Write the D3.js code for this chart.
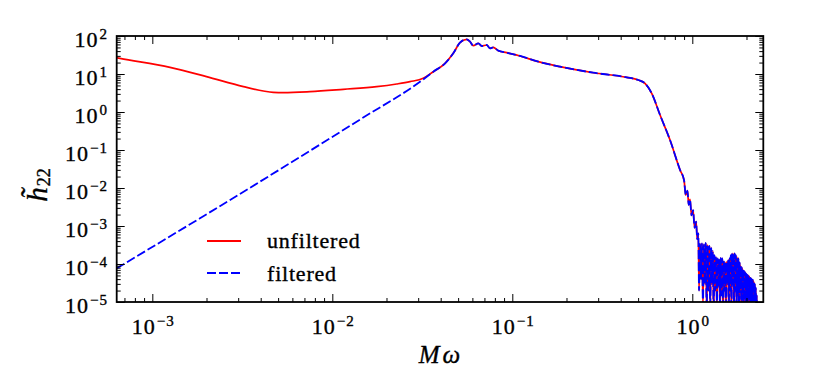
<!DOCTYPE html>
<html>
<head>
<meta charset="utf-8">
<script src="https://d3js.org/d3.v7.min.js"></script>
<style>
  body { margin: 0; background: #fff; }
  svg text { font-family: "Liberation Serif", serif; fill: #000; stroke: #000; stroke-width: 0.35; }
  .axis path { display: none; }
  .axis line { stroke: #000; stroke-width: 1; }
</style>
</head>
<body>
<svg id="chart" width="830" height="369"></svg>
<script>
// unfiltered spectrum at low frequency (before it joins the filtered one)
const redLowOmega = [6.34e-4, 6.61e-4, 1.254e-3, 2.0e-3, 3.21e-3, 4.14e-3, 4.70e-3, 5.35e-3, 7.52e-3, 1.151e-2, 1.764e-2, 2.278e-2, 2.70e-2, 3.20e-2];
const redLowAmp   = [26.8, 25.8, 14.97, 8.51, 4.64, 3.57, 3.29, 3.23, 3.43, 3.95, 4.64, 5.46, 6.28, 7.69];

// filtered spectrum at low frequency (power law)
const blueLowOmega = [6.34e-4, 1.84e-3, 1.43e-2, 3.20e-2];
const blueLowAmp   = [7.7e-5, 1.6e-3, 0.64, 7.2];

// common part: peak, inspiral tail, ringdown drop
const sharedOmega = [3.64e-2, 4.23e-2, 4.70e-2, 5.12e-2, 5.58e-2, 5.82e-2, 6.07e-2, 6.48e-2, 6.76e-2, 7.21e-2, 7.52e-2, 7.84e-2, 8.36e-2, 9.30e-2, 0.1104, 0.1395, 0.184, 0.282, 0.432, 0.501, 0.546, 0.595, 0.662, 0.752, 0.855,
                     0.90, 0.92, 0.94, 0.955, 0.971, 0.99, 1.01, 1.03, 1.05, 1.065, 1.08];
const sharedAmp   = [11.5, 19.1, 35.0, 66.8, 81.7, 70.9, 55.7, 64.1, 54.6, 58.0, 47.4, 50.3, 41.1, 36.4, 29.8, 21.1, 15.6, 10.8, 8.17, 6.95, 5.68, 3.10, 0.834, 0.183, 0.0298,
                     0.016, 6.5e-3, 8.5e-3, 3.6e-3, 5.0e-3, 1.9e-3, 2.6e-3, 9e-4, 1.3e-3, 4.5e-4, 6.4e-4];

// numerical noise floor at high frequency
const noiseOmega = [1.090, 1.104, 1.118, 1.132, 1.146, 1.160, 1.174, 1.188, 1.202, 1.216, 1.230, 1.244, 1.258, 1.272, 1.286, 1.300, 1.314, 1.328, 1.342, 1.356,
                    1.370, 1.384, 1.398, 1.412, 1.426, 1.440, 1.454, 1.468, 1.482, 1.496, 1.510, 1.524, 1.538, 1.552, 1.566, 1.580, 1.594, 1.608, 1.622, 1.636,
                    1.650, 1.664, 1.678, 1.692, 1.706, 1.720, 1.734, 1.748, 1.762, 1.776, 1.790, 1.804, 1.818, 1.832, 1.846, 1.860, 1.874, 1.888, 1.902, 1.916,
                    1.930, 1.944, 1.958, 1.972, 1.986, 2.000, 2.014, 2.028, 2.042, 2.056, 2.070, 2.084, 2.098, 2.112, 2.126, 2.140, 2.154, 2.168, 2.182, 2.196,
                    2.210, 2.224, 2.238, 2.252, 2.266, 2.280, 2.294, 2.308];
const noiseAmp   = [2.0e-5, 3.4e-4, 4e-5, 3.5e-4, 8e-6, 3.3e-4, 3e-5, 3.6e-4, 5e-6, 3.2e-4, 2e-5, 3.0e-4, 6e-6, 2.7e-4, 3e-5, 2.2e-4, 4e-6, 1.7e-4, 2e-5, 1.5e-4,
                    7e-6, 1.4e-4, 2.5e-5, 1.3e-4, 5e-6, 1.45e-4, 1.5e-5, 1.4e-4, 4e-6, 1.2e-4, 2e-5, 1.1e-4, 6e-6, 1.15e-4, 3e-5, 1.25e-4, 5e-6, 1.4e-4, 2e-5, 1.7e-4,
                    4e-6, 1.9e-4, 3e-5, 1.85e-4, 6e-6, 1.9e-4, 2e-5, 1.7e-4, 5e-6, 1.5e-4, 1.5e-5, 1.4e-4, 4e-6, 1.1e-4, 2e-5, 9e-5, 5e-6, 8e-5, 1.2e-5, 7e-5,
                    3e-6, 6.5e-5, 1.5e-5, 6e-5, 4e-6, 5.5e-5, 1e-5, 5.2e-5, 3e-6, 5e-5, 1.2e-5, 4.6e-5, 4e-6, 4.3e-5, 9e-6, 4e-5, 3e-6, 3.8e-5, 8e-6, 3.5e-5,
                    3e-6, 3e-5, 6e-6, 2.4e-5, 3e-6, 1.5e-5, 3e-6, 8e-6];

const xTickExp = [-3, -2, -1, 0];
const yTickExp = [-5, -4, -3, -2, -1, 0, 1, 2];
const legendLabels = ["unfiltered", "filtered"];

const L = 116.7, R = 763.3, T = 36, B = 302;

const svg = d3.select("#chart");

const x = d3.scaleLog().domain([6.34e-4, 2.48]).range([L, R]);
const y = d3.scaleLog().domain([1e-5, 1e2]).range([B, T]);

const zip = (a, b) => a.map((v, i) => [v, b[i]]);
const tail = zip(sharedOmega, sharedAmp).concat(zip(noiseOmega, noiseAmp));
const redData = zip(redLowOmega, redLowAmp).concat(tail);
const blueData = zip(blueLowOmega, blueLowAmp).concat(tail);

svg.append("clipPath").attr("id", "clip")
  .append("rect").attr("x", L).attr("y", T).attr("width", R - L).attr("height", B - T);

const line = d3.line()
  .x(d => x(d[0]))
  .y(d => y(d[1]))
  .curve(d3.curveMonotoneX);

const plot = svg.append("g").attr("clip-path", "url(#clip)");

plot.append("path")
  .datum(redData)
  .attr("d", line)
  .attr("fill", "none")
  .attr("stroke", "#ff0000")
  .attr("stroke-width", 1.7);

plot.append("path")
  .datum(blueData)
  .attr("d", line)
  .attr("fill", "none")
  .attr("stroke", "#0000ff")
  .attr("stroke-width", 1.8)
  .attr("stroke-dasharray", "9,3");

// ticks (inward, all four sides)
function minorTicks(lo, hi) {
  const out = [];
  for (let e = lo; e < hi; e++) for (let k = 2; k <= 9; k++) out.push(k * Math.pow(10, e));
  return out;
}
const xMajor = xTickExp.map(e => Math.pow(10, e));
const xMinor = minorTicks(-4, 1).filter(v => v >= x.domain()[0] && v <= x.domain()[1]);
const yMajor = yTickExp.map(e => Math.pow(10, e));
const yMinor = minorTicks(-5, 2);

function addAxis(gen, tr, vals, size) {
  svg.append("g").attr("class", "axis").attr("transform", tr)
    .call(gen.tickValues(vals).tickSize(size).tickFormat(""));
}
addAxis(d3.axisBottom(x), `translate(0,${B})`, xMajor, -8);
addAxis(d3.axisBottom(x), `translate(0,${B})`, xMinor, -4);
addAxis(d3.axisTop(x), `translate(0,${T})`, xMajor, -8);
addAxis(d3.axisTop(x), `translate(0,${T})`, xMinor, -4);
addAxis(d3.axisLeft(y), `translate(${L},0)`, yMajor, -8);
addAxis(d3.axisLeft(y), `translate(${L},0)`, yMinor, -4);
addAxis(d3.axisRight(y), `translate(${R},0)`, yMajor, -8);
addAxis(d3.axisRight(y), `translate(${R},0)`, yMinor, -4);

svg.append("rect")
  .attr("x", L).attr("y", T).attr("width", R - L).attr("height", B - T)
  .attr("fill", "none").attr("stroke", "#000").attr("stroke-width", 1.8);

// tick labels 10^n
function powLabel(sel, e) {
  sel.append("tspan").attr("letter-spacing", 1).text("10");
  sel.append("tspan").attr("dy", -8.3).attr("dx", 1).attr("font-size", 15).attr("letter-spacing", 1)
    .text(e < 0 ? "\u2212" + (-e) : String(e));
}
xTickExp.forEach(e => {
  const t = svg.append("text")
    .attr("x", x(Math.pow(10, e)) + 1)
    .attr("y", 334)
    .attr("text-anchor", "middle")
    .attr("font-size", 22);
  powLabel(t, e);
});
yTickExp.forEach(e => {
  const t = svg.append("text")
    .attr("x", 108)
    .attr("y", y(Math.pow(10, e)) + 11.3)
    .attr("text-anchor", "end")
    .attr("font-size", 22);
  powLabel(t, e);
});

// axis labels
svg.append("text")
  .attr("x", 441).attr("y", 363)
  .attr("text-anchor", "middle")
  .attr("font-size", 25)
  .attr("font-style", "italic")
  .attr("letter-spacing", 3)
  .text("M\u03c9");

const yl = svg.append("g").attr("transform", "translate(47,180) rotate(-90)");
const ylt = yl.append("text")
  .attr("x", -21.7).attr("y", 0)
  .attr("font-size", 29);
ylt.append("tspan").attr("font-style", "italic").text("h\u0303");
ylt.append("tspan").attr("dy", 3).attr("dx", 1).attr("font-size", 18).text("22");

// legend
const legColor = ["#ff0000", "#0000ff"];
const legDash = [null, "9,3"];
const legY = [241, 273];
const legBase = [248, 281];
legendLabels.forEach((lab, i) => {
  svg.append("line")
    .attr("x1", 207).attr("x2", 241)
    .attr("y1", legY[i]).attr("y2", legY[i])
    .attr("stroke", legColor[i]).attr("stroke-width", 1.8)
    .attr("stroke-dasharray", legDash[i]);
  svg.append("text")
    .attr("x", 267).attr("y", legBase[i])
    .attr("font-size", 22)
    .attr("letter-spacing", 0.8)
    .text(lab);
});
</script>
</body>
</html>
